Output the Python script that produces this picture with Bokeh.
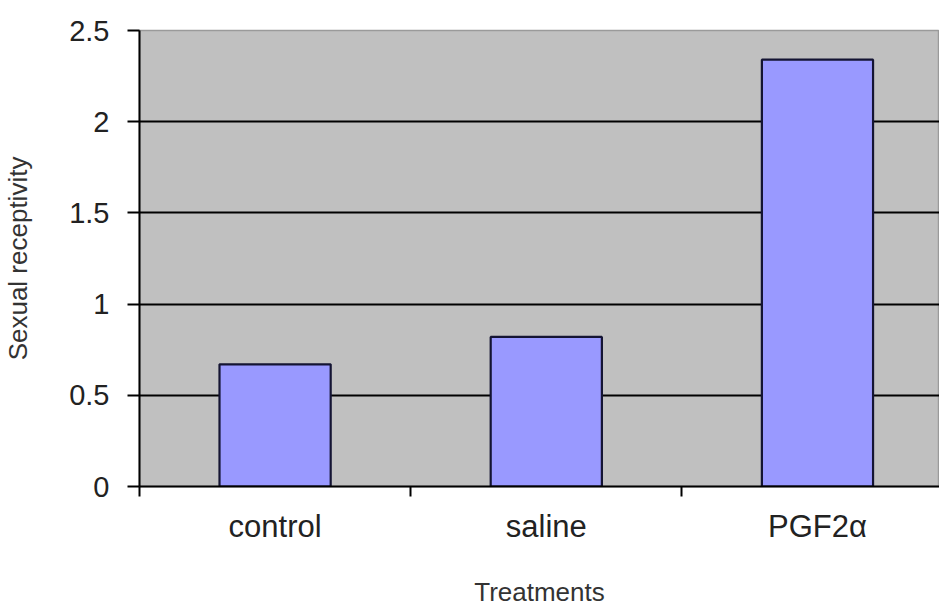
from bokeh.plotting import figure
from bokeh.models import Range1d, FixedTicker, ColumnDataSource
from bokeh.embed import file_html
from bokeh.resources import INLINE

# ---- data ----
categories = ["control", "saline", "PGF2\u03b1"]
receptivity = [0.67, 0.82, 2.34]
y_tick_values = [0, 0.5, 1, 1.5, 2, 2.5]
y_tick_labels = ["0", "0.5", "1", "1.5", "2", "2.5"]
grid_values = [0.5, 1, 1.5, 2]

x_centers = [i + 0.5 for i in range(len(categories))]
x_bounds = [float(i) for i in range(len(categories) + 1)]

src = ColumnDataSource(dict(x=x_centers, top=receptivity, cat=categories))

FONT = "Liberation Sans"

p = figure(
    frame_width=800, frame_height=456,
    x_range=Range1d(0, 2.95), y_range=Range1d(0, 2.5),
    output_backend="svg", toolbar_location=None,
    min_border_left=136, min_border_top=30, min_border_right=0, min_border_bottom=108,
)
p.background_fill_color = "#C0C0C0"
p.border_fill_color = "white"
p.outline_line_color = "#9a9a9a"
p.outline_line_width = 1.5

p.vbar(x="x", top="top", width=0.41, bottom=0, source=src,
       fill_color="#9999FF", line_color="#141433", line_width=2.2)

# grid
p.xgrid.visible = False
p.ygrid.ticker = FixedTicker(ticks=grid_values)
p.ygrid.grid_line_color = "black"
p.ygrid.grid_line_width = 1.8

# y axis
ya = p.yaxis[0]
ya.ticker = FixedTicker(ticks=y_tick_values)
ya.major_label_overrides = {v: l for v, l in zip(y_tick_values, y_tick_labels)}
ya.axis_line_color = "black"
ya.axis_line_width = 2
ya.major_tick_line_color = "black"
ya.major_tick_line_width = 2
ya.major_tick_out = 12
ya.major_tick_in = 0
ya.minor_tick_line_color = None
ya.major_label_standoff = 18
ya.major_label_text_font = FONT
ya.major_label_text_font_size = "29px"
ya.major_label_text_color = "#222222"
ya.axis_label = "Sexual receptivity"
ya.axis_label_text_font = FONT
ya.axis_label_text_font_size = "26px"
ya.axis_label_text_font_style = "normal"
ya.axis_label_text_color = "#333333"
ya.axis_label_standoff = 33

# x axis
xa = p.xaxis[0]
xa.ticker = FixedTicker(ticks=x_centers, minor_ticks=x_bounds)
xa.major_label_overrides = {v: c for v, c in zip(x_centers, categories)}
xa.axis_line_color = "black"
xa.axis_line_width = 2
xa.major_tick_out = 0
xa.major_tick_in = 0
xa.major_tick_line_color = None
xa.minor_tick_line_color = "black"
xa.minor_tick_line_width = 2
xa.minor_tick_out = 10
xa.minor_tick_in = 0
xa.major_label_standoff = 12
xa.major_label_text_font = FONT
xa.major_label_text_font_size = "31px"
xa.major_label_text_color = "#222222"
xa.axis_label = "Treatments"
xa.axis_label_text_font = FONT
xa.axis_label_text_font_size = "26px"
xa.axis_label_text_font_style = "normal"
xa.axis_label_text_color = "#333333"
xa.axis_label_standoff = 30

open("out.html", "w").write(file_html(p, INLINE))
